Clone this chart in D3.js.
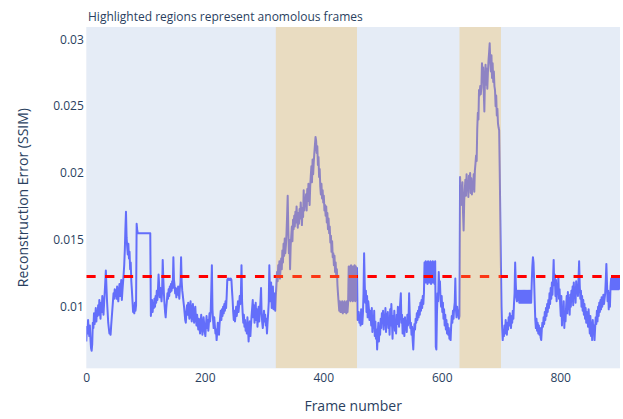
<!DOCTYPE html>
<html>
<head>
<meta charset="utf-8">
<script src="https://cdn.jsdelivr.net/npm/d3@7"></script>
<style>
  body { margin: 0; background: #fff; }
  text { font-family: "Open Sans", "Noto Sans", sans-serif; fill: #2a3f5f; }
</style>
</head>
<body>
<svg id="chart" width="623" height="419"></svg>
<script>
// Labels
const chartTitle = "Highlighted regions represent anomolous frames";
const xTitle = "Frame number";
const yTitle = "Reconstruction Error (SSIM)";

// Tick values
const xTicks = [0, 200, 400, 600, 800];
const yTicks = [0.01, 0.015, 0.02, 0.025, 0.03];

// Anomalous frame ranges (start / end frame)
const anomalyStart = [320, 630];
const anomalyEnd = [457, 700];

// Error threshold
const threshold = 0.01225;

// Per-frame reconstruction error, frame 0 onwards
const errorSSIM = [
  .0074,.0085,.0080,.0090,.0083,.0078,.0086,.0076,.0069,.0067, // 0
  .0072,.0088,.0084,.0095,.0087,.0092,.0099,.0089,.0097,.0093,
  .0101,.0094,.0105,.0098,.0091,.0103,.0096,.0108,.0100,.0094,
  .0102,.0110,.0118,.0127,.0115,.0104,.0096,.0088,.0084,.0080,
  .0082,.0079,.0086,.0092,.0098,.0104,.0110,.0106,.0113,.0108,
  .0112,.0106,.0115,.0109,.0104,.0111,.0117,.0108,.0114,.0120,
  .0105,.0112,.0118,.0124,.0131,.0142,.0158,.0171,.0152,.0145,
  .0139,.0147,.0136,.0141,.0128,.0133,.0119,.0112,.0104,.0096,
  .0099,.0095,.0103,.0097,.0101,.0162,.0157,.0155,.0155,.0155,
  .0155,.0155,.0155,.0155,.0155,.0155,.0155,.0155,.0155,.0155,
  .0155,.0155,.0155,.0155,.0155,.0155,.0155,.0155,.0155,.0093, // 100
  .0098,.0105,.0096,.0102,.0099,.0106,.0100,.0108,.0103,.0112,
  .0105,.0113,.0124,.0116,.0107,.0114,.0110,.0104,.0112,.0135,
  .0121,.0110,.0102,.0096,.0092,.0099,.0104,.0110,.0106,.0113,
  .0108,.0115,.0111,.0117,.0112,.0119,.0114,.0137,.0120,.0116,
  .0110,.0114,.0107,.0113,.0109,.0115,.0111,.0106,.0114,.0118,
  .0137,.0119,.0112,.0108,.0104,.0100,.0095,.0090,.0088,.0096,
  .0101,.0094,.0103,.0097,.0091,.0099,.0104,.0095,.0089,.0098,
  .0102,.0093,.0088,.0096,.0100,.0092,.0086,.0094,.0089,.0083,
  .0091,.0085,.0080,.0088,.0094,.0086,.0079,.0084,.0092,.0087,
  .0081,.0078,.0086,.0093,.0084,.0090,.0082,.0088,.0095,.0089, // 200
  .0096,.0112,.0131,.0098,.0090,.0084,.0092,.0086,.0080,.0083,
  .0075,.0081,.0088,.0084,.0079,.0087,.0092,.0097,.0090,.0098,
  .0093,.0100,.0095,.0102,.0097,.0104,.0099,.0108,.0120,.0121,
  .0120,.0121,.0120,.0120,.0121,.0120,.0112,.0105,.0096,.0090,
  .0097,.0089,.0094,.0100,.0093,.0098,.0104,.0096,.0101,.0108,
  .0102,.0110,.0131,.0104,.0095,.0088,.0094,.0085,.0090,.0082,
  .0087,.0080,.0092,.0084,.0074,.0083,.0089,.0078,.0086,.0093,
  .0099,.0105,.0092,.0101,.0088,.0096,.0103,.0090,.0098,.0085,
  .0094,.0100,.0089,.0097,.0104,.0114,.0095,.0088,.0084,.0091,
  .0097,.0089,.0094,.0086,.0091,.0080,.0088,.0095,.0103,.0131, // 300
  .0112,.0104,.0118,.0099,.0108,.0115,.0098,.0110,.0102,.0097,
  .0108,.0116,.0126,.0119,.0131,.0124,.0134,.0121,.0129,.0136,
  .0128,.0142,.0133,.0147,.0138,.0151,.0140,.0146,.0155,.0168,
  .0183,.0158,.0140,.0150,.0128,.0145,.0153,.0160,.0149,.0165,
  .0158,.0168,.0160,.0171,.0163,.0175,.0165,.0159,.0170,.0162,
  .0173,.0166,.0178,.0169,.0161,.0174,.0167,.0187,.0172,.0180,
  .0176,.0184,.0172,.0188,.0179,.0192,.0183,.0176,.0190,.0198,
  .0205,.0193,.0210,.0199,.0208,.0215,.0221,.0227,.0224,.0215,
  .0220,.0206,.0212,.0197,.0203,.0190,.0184,.0192,.0181,.0187,
  .0178,.0183,.0172,.0176,.0168,.0175,.0163,.0170,.0158,.0166, // 400
  .0155,.0160,.0148,.0153,.0141,.0149,.0137,.0140,.0131,.0138,
  .0126,.0133,.0122,.0128,.0116,.0109,.0103,.0097,.0104,.0096,
  .0103,.0096,.0104,.0095,.0103,.0096,.0104,.0096,.0103,.0095,
  .0104,.0096,.0103,.0130,.0105,.0130,.0104,.0131,.0105,.0130,
  .0104,.0130,.0105,.0131,.0104,.0130,.0105,.0129,.0090,.0092,
  .0096,.0088,.0093,.0086,.0098,.0091,.0087,.0095,.0110,.0140,
  .0118,.0103,.0112,.0096,.0108,.0092,.0104,.0099,.0090,.0097,
  .0094,.0086,.0099,.0081,.0092,.0084,.0097,.0078,.0089,.0076,
  .0083,.0068,.0080,.0088,.0074,.0085,.0079,.0091,.0084,.0095,
  .0089,.0097,.0083,.0092,.0087,.0099,.0081,.0094,.0088,.0096, // 500
  .0084,.0091,.0079,.0098,.0086,.0102,.0089,.0076,.0093,.0085,
  .0097,.0082,.0090,.0080,.0094,.0087,.0100,.0092,.0085,.0096,
  .0103,.0110,.0088,.0094,.0080,.0091,.0085,.0078,.0092,.0083,
  .0089,.0081,.0094,.0086,.0090,.0110,.0095,.0084,.0088,.0079,
  .0085,.0075,.0068,.0080,.0087,.0083,.0091,.0088,.0095,.0090,
  .0097,.0092,.0100,.0094,.0103,.0097,.0105,.0099,.0108,.0102,
  .0110,.0133,.0118,.0134,.0118,.0133,.0117,.0134,.0118,.0133,
  .0118,.0134,.0117,.0133,.0118,.0134,.0118,.0133,.0117,.0134,
  .0070,.0068,.0095,.0110,.0104,.0126,.0112,.0119,.0106,.0100,
  .0108,.0096,.0103,.0091,.0098,.0086,.0094,.0083,.0090,.0080, // 600
  .0087,.0079,.0084,.0076,.0081,.0075,.0086,.0093,.0088,.0097,
  .0091,.0099,.0103,.0121,.0098,.0092,.0100,.0094,.0097,.0091,
  .0093,.0197,.0184,.0190,.0176,.0193,.0170,.0157,.0179,.0188,
  .0195,.0183,.0199,.0187,.0194,.0182,.0198,.0189,.0200,.0185,
  .0196,.0184,.0193,.0188,.0199,.0186,.0202,.0207,.0213,.0209,
  .0233,.0245,.0240,.0262,.0258,.0265,.0259,.0264,.0282,.0273,
  .0279,.0261,.0246,.0270,.0281,.0266,.0278,.0263,.0275,.0284,
  .0290,.0297,.0284,.0276,.0288,.0271,.0282,.0268,.0276,.0265,
  .0262,.0250,.0258,.0243,.0248,.0237,.0234,.0232,.0200,.0165,
  .0130,.0100,.0085,.0075,.0082,.0078,.0086,.0080,.0090,.0084, // 700
  .0079,.0088,.0083,.0092,.0086,.0095,.0089,.0084,.0093,.0088,
  .0097,.0091,.0102,.0110,.0133,.0118,.0107,.0104,.0112,.0105,
  .0112,.0103,.0112,.0103,.0112,.0103,.0112,.0103,.0112,.0103,
  .0112,.0103,.0112,.0103,.0112,.0103,.0112,.0103,.0112,.0103,
  .0112,.0103,.0118,.0130,.0137,.0133,.0120,.0104,.0090,.0084,
  .0091,.0082,.0088,.0080,.0086,.0079,.0084,.0077,.0075,.0083,
  .0088,.0085,.0092,.0087,.0096,.0090,.0099,.0093,.0102,.0096,
  .0105,.0099,.0110,.0102,.0114,.0106,.0118,.0109,.0121,.0135,
  .0116,.0124,.0108,.0120,.0104,.0117,.0110,.0122,.0106,.0113,
  .0102,.0093,.0108,.0086,.0099,.0090,.0104,.0084,.0096,.0089, // 800
  .0100,.0108,.0095,.0111,.0098,.0106,.0094,.0109,.0100,.0112,
  .0104,.0115,.0101,.0118,.0107,.0113,.0103,.0119,.0110,.0116,
  .0108,.0121,.0134,.0117,.0106,.0112,.0100,.0108,.0097,.0105,
  .0094,.0102,.0091,.0099,.0088,.0096,.0092,.0085,.0098,.0089,
  .0080,.0093,.0078,.0088,.0075,.0090,.0082,.0086,.0075,.0084,
  .0092,.0087,.0097,.0089,.0100,.0093,.0103,.0096,.0105,.0098,
  .0107,.0100,.0104,.0109,.0102,.0106,.0110,.0120,.0132,.0118,
  .0104,.0112,.0098,.0110,.0100,.0115,.0121,.0113,.0121,.0113,
  .0121,.0113,.0121,.0113,.0121,.0113,.0121,.0113,.0121,.0113,
  .0121,.0113                                                  // 900
];

const frames = d3.range(errorSSIM.length);
const points = frames.map(i => [i, errorSSIM[i]]);
const regions = anomalyStart.map((s, i) => [s, anomalyEnd[i]]);

// Plot area
const plot = { left: 86.3, right: 620, top: 27, bottom: 368.3 };

const x = d3.scaleLinear()
  .domain([0, frames[frames.length - 1]])
  .range([plot.left, plot.right]);
const y = d3.scaleLinear()
  .domain([0.00539, 0.03092])
  .range([plot.bottom, plot.top]);

const svg = d3.select("#chart");

svg.append("defs").append("clipPath").attr("id", "plot-clip")
  .append("rect")
  .attr("x", plot.left).attr("y", plot.top)
  .attr("width", plot.right - plot.left)
  .attr("height", plot.bottom - plot.top);

// Background
svg.append("rect")
  .attr("x", plot.left).attr("y", plot.top)
  .attr("width", plot.right - plot.left)
  .attr("height", plot.bottom - plot.top)
  .attr("fill", "#E5ECF6");

const inner = svg.append("g").attr("clip-path", "url(#plot-clip)");

// Error trace
inner.append("path")
  .datum(points)
  .attr("fill", "none")
  .attr("stroke", "#636EFA")
  .attr("stroke-width", 2)
  .attr("stroke-linejoin", "round")
  .attr("d", d3.line().x(d => x(d[0])).y(d => y(d[1])));

// Threshold line
inner.append("line")
  .attr("x1", plot.left).attr("x2", plot.right)
  .attr("y1", y(threshold)).attr("y2", y(threshold))
  .attr("stroke", "#FF0000")
  .attr("stroke-width", 3)
  .attr("stroke-dasharray", "9.37,9.37");

// Highlighted anomaly ranges
inner.selectAll("rect.anomaly")
  .data(regions)
  .join("rect")
  .attr("class", "anomaly")
  .attr("x", d => x(d[0]))
  .attr("width", d => x(d[1]) - x(d[0]))
  .attr("y", plot.top)
  .attr("height", plot.bottom - plot.top)
  .attr("fill", "rgb(242,183,69)")
  .attr("fill-opacity", 0.3);

// Axes
const xAxis = svg.append("g")
  .attr("transform", `translate(0,${plot.bottom})`)
  .call(d3.axisBottom(x).tickValues(xTicks).tickSize(0).tickPadding(5)
    .tickFormat(d3.format("d")));
const yAxis = svg.append("g")
  .attr("transform", `translate(${plot.left},0)`)
  .call(d3.axisLeft(y).tickValues(yTicks).tickSize(0).tickPadding(2.5)
    .tickFormat(d => String(+d.toFixed(4))));
[xAxis, yAxis].forEach(g => {
  g.select(".domain").remove();
  g.selectAll("text").attr("font-size", 12).attr("fill", "#2a3f5f")
    .style("font-family", '"Open Sans", sans-serif');
});

// Titles
svg.append("text")
  .attr("x", 88).attr("y", 21)
  .attr("font-size", 12)
  .text(chartTitle);

svg.append("text")
  .attr("x", (plot.left + plot.right) / 2).attr("y", 411)
  .attr("text-anchor", "middle")
  .attr("font-size", 14)
  .text(xTitle);

svg.append("text")
  .attr("transform", `translate(28,${(plot.top + plot.bottom) / 2}) rotate(-90)`)
  .attr("text-anchor", "middle")
  .attr("font-size", 14)
  .text(yTitle);
</script>
</body>
</html>
